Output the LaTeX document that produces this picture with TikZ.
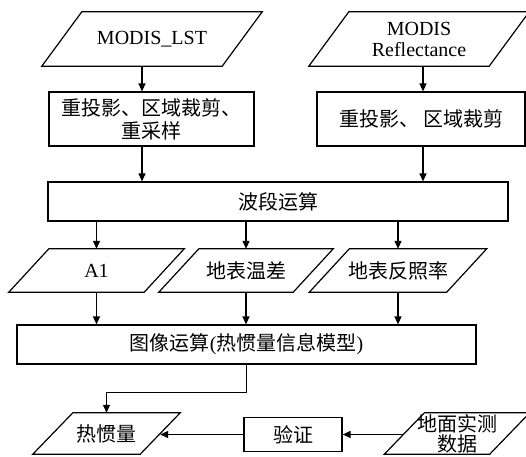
\documentclass[tikz,border=0pt]{standalone}
\usepackage{fontspec}
\setmainfont{Liberation Serif}
\newfontfamily\cjk{Noto Sans CJK SC}
\usetikzlibrary{arrows.meta,calc}
\newcommand\pgram[2]{\draw[ln] ([xshift=#2]#1.north west) -- ([xshift=#2]#1.north east) -- ([xshift=-#2]#1.south east) -- ([xshift=-#2]#1.south west) -- cycle;}
\begin{document}
\begin{tikzpicture}[x=1pt,y=-1pt,
  ln/.style={line width=1.2pt},
  arr/.style={line width=1.2pt,-{Triangle[length=8pt,width=7pt]}},
  txt/.style={font=\fontsize{20}{23}\selectfont},
  boxnode/.style={draw,line width=1.2pt,inner sep=0pt,align=center,txt},
  ionode/.style={inner sep=0pt,align=center,txt}]
\useasboundingbox (0,0) rectangle (526,456);
% row 1
\node[ionode,minimum width=180pt,minimum height=54pt] (p1) at (152,39) {MODIS\_LST};
\node[ionode,minimum width=180pt,minimum height=54pt,font=\fontsize{20}{21}\selectfont] (p2) at (419,39) {MODIS\\Reflectance};
\pgram{p1}{20pt}
\pgram{p2}{20pt}
\node[boxnode,minimum width=205pt,minimum height=54pt] (b1) at (151.5,119) {{\cjk 重投影、区域裁剪、}\\{\cjk 重采样}};
\node[boxnode,minimum width=208pt,minimum height=54pt] (b2) at (421,119) {{\cjk 重投影、\hspace{4pt}区域裁剪}};
\node[boxnode,minimum width=460pt,minimum height=39pt] (b3) at (278,201.5) {{\cjk 波段运算}};
% row 2
\node[ionode,minimum width=135pt,minimum height=43pt] (a1) at (96.5,270.5) {A1};
\node[ionode,minimum width=134pt,minimum height=43pt] (a2) at (246,270.5) {{\cjk 地表温差}};
\node[ionode,minimum width=137pt,minimum height=43pt] (a3) at (398,270.5) {{\cjk 地表反照率}};
\pgram{a1}{20pt}
\pgram{a2}{20pt}
\pgram{a3}{20pt}
\node[boxnode,minimum width=459pt,minimum height=39pt] (b4) at (246.5,344.5) {{\cjk 图像运算}({\cjk 热惯量信息模型})};
% row 3
\node[ionode,minimum width=107pt,minimum height=41pt] (r1) at (106.5,433.5) {{\cjk 热惯量}};
\pgram{r1}{20pt}
\node[boxnode,minimum width=98pt,minimum height=34pt] (yz) at (293,434.5) {{\cjk 验证}};
\node[ionode,minimum width=105pt,minimum height=41pt,font=\fontsize{20}{20}\selectfont] (dm) at (457,433.5) {{\cjk 地面实测}\\{\cjk 数据}};
\pgram{dm}{20pt}
% connectors
\coordinate (x1) at (142,0);
\coordinate (x2) at (423,0);
\draw[arr] (x1 |- p1.south) -- (x1 |- b1.north);
\draw[arr] (x1 |- b1.south) -- (x1 |- b3.north);
\draw[arr] (x2 |- p2.south) -- (x2 |- b2.north);
\draw[arr] (x2 |- b2.south) -- (x2 |- b3.north);
\draw[arr] (b3.south -| a1.north) -- (a1.north);
\draw[arr] (b3.south -| a2.north) -- (a2.north);
\draw[arr] (b3.south -| a3.north) -- (a3.north);
\draw[arr] (a1.south) -- (a1.south |- b4.north);
\draw[arr] (a2.south) -- (a2.south |- b4.north);
\draw[arr] (a3.south) -- (a3.south |- b4.north);
\draw[arr] (b4.south) -- ++(0,28) -| (r1.north);
\draw[arr] (dm.west |- yz.east) -- (yz.east);
\draw[arr] (yz.west) -- (r1.east |- yz.west);
\end{tikzpicture}
\end{document}
